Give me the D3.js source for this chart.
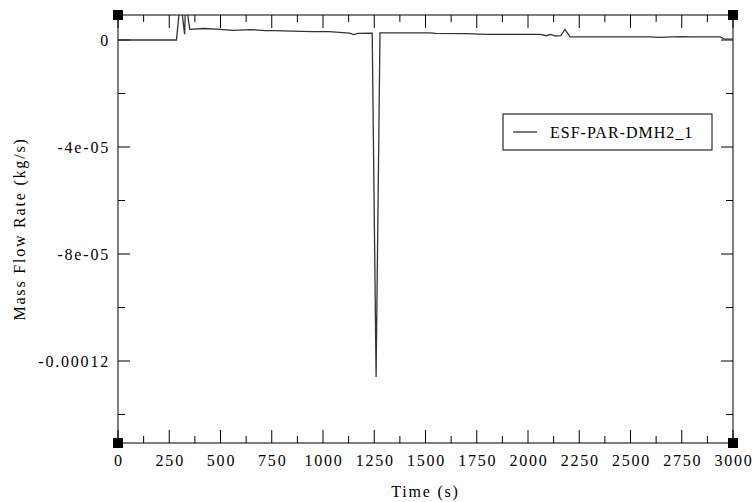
<!DOCTYPE html>
<html>
<head>
<meta charset="utf-8">
<title>Mass Flow Rate</title>
<script src="https://cdn.jsdelivr.net/npm/d3@7"></script>
<style>
  body { margin: 0; background: #fff; }
  text { font-family: "Liberation Serif", "Times New Roman", serif; fill: #000; font-size: 16px; }
  .tick-label { letter-spacing: 1.8px; }
</style>
</head>
<body>
<div id="chart"></div>
<script>
// data
var times = [0, 100, 200, 285, 305, 325, 330, 350, 420, 500, 560, 650, 720, 760, 850, 950, 1030, 1130, 1150, 1170,
             1240, 1259, 1278, 1400, 1520, 1550, 1700, 1800, 2060, 2090, 2110, 2135, 2160, 2180, 2205, 2350,
             2595, 2640, 2740, 2800, 2937, 2960, 3000];
var flow = [0, 0, 0, 0, 1.5e-5, 2.2e-6, 1.5e-5, 4.0e-6, 4.3e-6, 4.0e-6, 3.6e-6, 3.9e-6, 3.5e-6, 3.5e-6, 3.3e-6, 3.1e-6, 3.1e-6, 2.6e-6, 2.0e-6, 2.5e-6,
            2.6e-6, -1.26e-4, 2.7e-6, 2.7e-6, 2.7e-6, 2.5e-6, 2.4e-6, 2.1e-6, 2.1e-6, 1.6e-6, 2.1e-6, 1.5e-6, 1.6e-6, 4.0e-6, 1.2e-6, 1.2e-6,
            1.2e-6, 1.0e-6, 1.3e-6, 1.2e-6, 1.2e-6, 0.3e-6, 0.3e-6];
var seriesName = "ESF-PAR-DMH2_1";
var xTicks = [0, 250, 500, 750, 1000, 1250, 1500, 1750, 2000, 2250, 2500, 2750, 3000];
var yTicks = [0, -4e-5, -8e-5, -1.2e-4];
var yTickLabels = ["0", "-4e-05", "-8e-05", "-0.00012"];

var W = 754, H = 502;
var m = {left: 118, right: 21, top: 15, bottom: 59};
var iw = W - m.left - m.right, ih = H - m.top - m.bottom;

var svg = d3.select("#chart").append("svg").attr("width", W).attr("height", H);
var g = svg.append("g").attr("transform", "translate(" + m.left + "," + m.top + ")");

var x = d3.scaleLinear().domain([0, 3000]).range([0, iw]);
var y = d3.scaleLinear().domain([-1.5065e-4, 9.35e-6]).range([ih, 0]);

var xMinor = d3.range(125, 3000, 250);
var yMinor = [-2e-5, -6e-5, -1e-4, -1.4e-4];

// frame
g.append("rect").attr("width", iw).attr("height", ih)
  .attr("fill", "none").attr("stroke", "#000").attr("stroke-width", 1);

// inward ticks on all four sides
function ticks(vals, len) {
  vals.forEach(function(v){
    var px = x(v);
    g.append("line").attr("x1", px).attr("x2", px).attr("y1", ih).attr("y2", ih - len).attr("stroke", "#000");
    g.append("line").attr("x1", px).attr("x2", px).attr("y1", 0).attr("y2", len).attr("stroke", "#000");
  });
}
ticks(xTicks, 13);
ticks(xMinor, 7);
function yt(vals, len) {
  vals.forEach(function(v){
    var py = y(v);
    g.append("line").attr("x1", 0).attr("x2", len).attr("y1", py).attr("y2", py).attr("stroke", "#000");
    g.append("line").attr("x1", iw).attr("x2", iw - len).attr("y1", py).attr("y2", py).attr("stroke", "#000");
  });
}
yt(yTicks, 12);
yt(yMinor, 7);

// tick labels
g.selectAll(".xl").data(xTicks).enter().append("text").attr("class", "tick-label")
  .attr("x", function(d){ return x(d) + 1; }).attr("y", ih + 23)
  .attr("text-anchor", "middle")
  .text(function(d){ return d; });
g.selectAll(".yl").data(yTicks).enter().append("text").attr("class", "tick-label")
  .attr("x", -8).attr("y", function(d){ return y(d); }).attr("dy", "0.35em")
  .attr("text-anchor", "end")
  .text(function(d, i){ return yTickLabels[i]; });

// axis titles
svg.append("text").attr("class", "tick-label").attr("x", m.left + iw / 2).attr("y", 497)
  .attr("text-anchor", "middle").text("Time (s)");
svg.append("text").attr("class", "tick-label").attr("transform", "translate(25," + (m.top + ih / 2) + ") rotate(-90)")
  .attr("text-anchor", "middle").text("Mass Flow Rate (kg/s)");

// the series
svg.append("clipPath").attr("id", "clip").append("rect").attr("width", iw).attr("height", ih);
var line = d3.line().x(function(d, i){ return x(times[i]); }).y(function(d){ return y(d); });
g.append("path").datum(flow).attr("clip-path", "url(#clip)")
  .attr("d", line).attr("fill", "none").attr("stroke", "#333").attr("stroke-width", 1.3);

// corner markers
[[0, 0], [iw, 0], [0, ih], [iw, ih]].forEach(function(p){
  g.append("rect").attr("x", p[0] - 5).attr("y", p[1] - 5).attr("width", 10).attr("height", 10).attr("fill", "#000");
});

// legend
var lg = svg.append("g").attr("transform", "translate(503,114)");
lg.append("rect").attr("width", 209).attr("height", 36).attr("fill", "#fff").attr("stroke", "#000");
lg.append("line").attr("x1", 10).attr("x2", 34).attr("y1", 18).attr("y2", 18).attr("stroke", "#333").attr("stroke-width", 1.3);
lg.append("text").attr("x", 47).attr("y", 18).attr("dy", "0.35em").style("letter-spacing", "1px").text(seriesName);
</script>
</body>
</html>
